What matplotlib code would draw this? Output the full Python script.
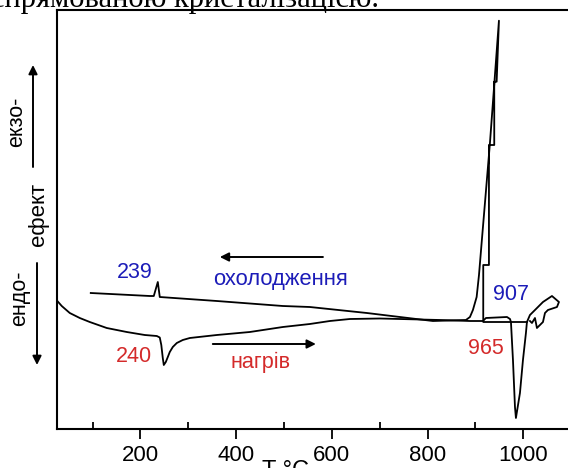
import matplotlib
matplotlib.use("Agg")
import matplotlib.pyplot as plt
from matplotlib.ticker import MultipleLocator

plt.rcParams['font.family'] = ['Liberation Sans', 'DejaVu Sans']

# --- дані (T, °C; сигнал ДТА, умовні одиниці) ---
heat_T = [24.5, 35.5, 52.3, 73.2, 94.1, 129.6, 171.4, 209, 234.2, 240.4, 243.6,
          246.7, 248.8, 253, 257.2, 261.3, 267.6, 276, 288.5, 303.2, 359.6,
          428.6, 497.6, 554, 595.9, 637.7, 700.4, 742.2, 825.8, 888.6, 915.7,
          922, 966, 972.3, 974.3, 978.5, 982.7, 984.7, 993.1, 999.4, 1005.6,
          1007.7, 1014, 1024.5, 1041.2, 1060, 1074.6, 1070.5, 1051.6, 1045.4,
          1041.2, 1034.9, 1028.6, 1024.5, 1018.2, 1014]
heat_S = [129.3, 123.3, 116.3, 111.3, 107.3, 101.3, 97.3, 94.3, 93.3, 91.8, 84.3,
          71.3, 64.3, 67.3, 72.3, 77.3, 82.3, 86.3, 89.3, 91.3, 94.3,
          97.3, 102.3, 105.3, 108.3, 110.3, 110.8, 110.3, 109.3, 108.3, 108.3,
          111.3, 112.3, 110.3, 107.3, 69.3, 22.3, 11.3, 36.3, 69.3, 96.3,
          107.3, 114.3, 119.3, 127.3, 133.3, 127.3, 122.3, 119.3, 116.3,
          107.3, 104.3, 101.3, 111.3, 106.3, 108.3]

cool_T = [1007.7, 916.4, 916.4, 928.3, 928.3, 939.4, 939.4, 944.4, 949.2,
          930.4, 913, 907.5, 902.6, 894.8, 888.6, 880.2, 811.2, 673.2, 554,
          497.6, 359.6, 240.4, 236.3, 227.9, 219.5, 96.2]
cool_S = [107.3, 107.3, 164.3, 164.3, 284.3, 284.3, 347.6, 347.6, 408.6,
          286.3, 186.3, 154.3, 132.3, 119.3, 112.3, 109.3, 108.3, 116.3, 122.3,
          123.3, 128.3, 132.3, 147.3, 133.3, 133.3, 136.3]

blue = '#1c1cb8'
red = '#d42a2a'

W, H = 568, 468
fig = plt.figure(figsize=(W / 100, H / 100), dpi=100)

# вісь виходить за правий край (права рамка обрізана, як в оригіналі)
x_left, x_right = 56.7, 571.1
y_top, y_bot = 10.0, 429.3
ax = fig.add_axes([x_left / W, 1 - y_bot / H, (x_right - x_left) / W, (y_bot - y_top) / H])

ax.plot(heat_T, heat_S, color='black', lw=1.3)
ax.plot(cool_T, cool_S, color='black', lw=1.3)

ax.set_xlim(25, 1100)
ax.set_ylim(0, 419.3)

for s in ax.spines.values():
    s.set_linewidth(1.5)

ax.xaxis.set_major_locator(MultipleLocator(200))
ax.xaxis.set_minor_locator(MultipleLocator(100))
ax.tick_params(axis='x', which='major', direction='out', length=7, width=1.3,
               labelsize=16, pad=4)
ax.tick_params(axis='x', which='minor', direction='in', length=5, width=1.3)
ax.tick_params(axis='y', left=False, labelleft=False)
ax.tick_params(axis='x', top=False)

# підписи піків
ax.text(188, 157.3, '239', color=blue, fontsize=15.5, ha='center', va='center')
ax.text(186, 72.3, '240', color=red, fontsize=15.5, ha='center', va='center')
ax.text(936.7, 134.3, '907', color=blue, fontsize=15.5, ha='left', va='center')
ax.text(884.4, 81.3, '965', color=red, fontsize=15.5, ha='left', va='center')
ax.text(351, 150.3, 'охолодження', color=blue, fontsize=15.8, ha='left', va='center')
ax.text(389, 67.3, 'нагрів', color=red, fontsize=15.6, ha='left', va='center')

arr = dict(arrowstyle='-|>', color='black', lw=1.4, mutation_scale=13, shrinkA=0, shrinkB=0)
ax.annotate('', xy=(365.9, 172.3), xytext=(581.4, 172.3), arrowprops=arr)
ax.annotate('', xy=(566.6, 85.3), xytext=(351.2, 85.3), arrowprops=arr)

# ліва підпис-вісь: ендо- / ефект / екзо-
def px(x, y):
    return x / W, 1 - y / H

fig.text(*px(17, 122), 'екзо-', rotation=90, fontsize=15.5, ha='center', va='center')
fig.text(*px(38, 214), 'ефект', rotation=90, fontsize=16, ha='center', va='center')
fig.text(*px(20, 298), 'ендо-', rotation=90, fontsize=15.5, ha='center', va='center')
fig_arr = dict(arrowstyle='-|>', color='black', lw=1.4, mutation_scale=13, shrinkA=0, shrinkB=0)
fig.add_artist(plt.Annotation('', xy=px(33, 65), xytext=px(33, 167), xycoords='figure fraction',
                              textcoords='figure fraction', arrowprops=fig_arr))
fig.add_artist(plt.Annotation('', xy=px(37, 365), xytext=px(37, 263), xycoords='figure fraction',
                              textcoords='figure fraction', arrowprops=fig_arr))

# підпис осі T, °C (нижня частина обрізана, як в оригіналі)
fig.text(*px(262, 477), 'T °C', fontsize=17, ha='left', va='baseline')

# рядок тексту документа над рисунком (обрізаний зверху, як в оригіналі)
fig.text(*px(379, 7.5), 'спрямованою кристалізацією.', fontsize=22, ha='right',
         va='baseline', family=['Liberation Serif', 'DejaVu Serif'])

fig.savefig('out.png', dpi=100)
